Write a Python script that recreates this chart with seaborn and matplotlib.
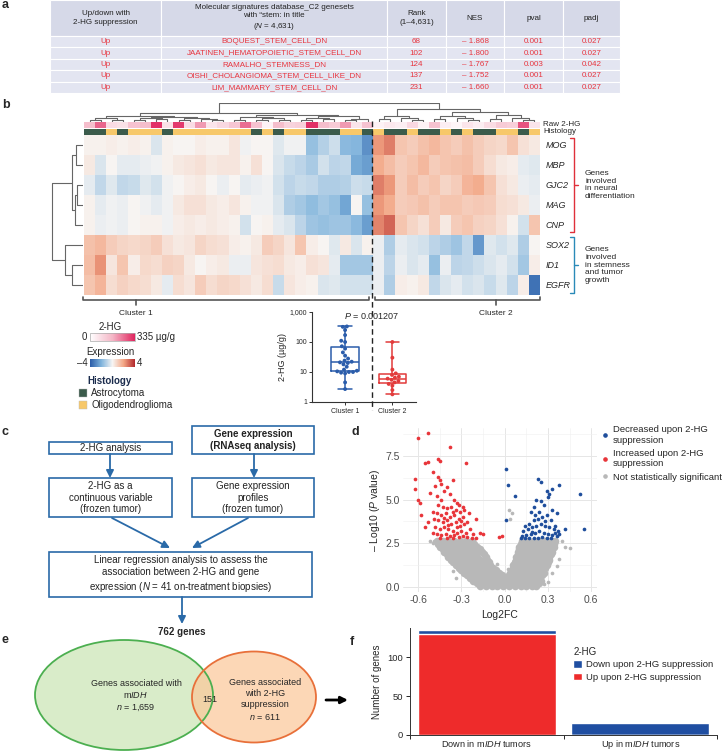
import numpy as np
import pandas as pd
import matplotlib
matplotlib.use("Agg")
import matplotlib.pyplot as plt
import seaborn as sns
from matplotlib.colors import LinearSegmentedColormap, ListedColormap, Normalize
from matplotlib.colorbar import ColorbarBase
from matplotlib.patches import Rectangle, Ellipse, Patch
from matplotlib.lines import Line2D
from matplotlib.ticker import AutoMinorLocator

W, H = 722, 753

# ---------------- a: GSEA table ----------------
table_direction = ["Up", "Up", "Up", "Up", "Up"]
table_genesets = ["BOQUEST_STEM_CELL_DN", "JAATINEN_HEMATOPOIETIC_STEM_CELL_DN",
                  "RAMALHO_STEMNESS_DN", "OISHI_CHOLANGIOMA_STEM_CELL_LIKE_DN",
                  "LIM_MAMMARY_STEM_CELL_DN"]
table_rank = [68, 102, 124, 137, 231]
table_nes = [-1.868, -1.800, -1.767, -1.752, -1.660]
table_pval = [0.001, 0.001, 0.003, 0.001, 0.001]
table_padj = [0.027, 0.027, 0.042, 0.027, 0.027]

# ---------------- b: heatmap ----------------
genes = ["MOG", "MBP", "GJC2", "MAG", "CNP", "SOX2", "ID1", "EGFR"]
expr_cluster1 = [
    [0.1, 0.1, 0.2, 0.1, 0.2, 0.1, -0.5, 0.1, 0.0, 0.0, 0.2, 0.1, 0.1, 0.4, -0.1, 0.0, 0.0, -0.4, -0.1, -0.1, -1.6, -1.1, -0.7, -1.8, -1.9, -2.8],
    [0.3, -0.5, 0.0, -0.3, -0.3, -0.2, -0.1, 0.1, 0.3, 0.4, 0.5, 0.3, 0.4, 0.4, 0.1, 0.5, 0.0, -0.5, -0.8, -1.0, -1.3, -0.6, -1.0, -0.9, -2.2, -2.5],
    [-0.3, -0.9, -0.4, -0.9, -0.8, -0.4, -0.6, -0.1, 0.0, 0.2, 0.3, 0.0, -0.2, 0.0, -0.3, -0.2, -0.1, -0.6, -1.0, -0.8, -0.9, -1.2, -1.2, -1.1, -0.7, -0.8],
    [0.1, -0.3, -0.1, -0.2, 0.0, -0.1, -0.3, -0.1, 0.3, 0.5, 0.5, 0.3, 0.2, 0.4, 0.1, -0.1, -0.1, -0.5, -1.2, -1.4, -1.7, -1.4, -1.6, -2.3, 0.0, -1.6],
    [0.1, -0.2, -0.1, -0.2, 0.0, 0.1, 0.1, -0.1, 0.2, 0.3, 0.2, 0.3, 0.2, 0.1, -0.6, 0.0, 0.1, -0.3, -0.5, -1.0, -1.5, -1.6, -1.5, -1.5, -1.8, -2.5],
    [1.3, 1.5, 1.0, 0.8, 0.7, 0.8, 1.0, 0.5, 0.3, 0.4, 0.8, 0.6, 0.5, 0.2, 0.1, 0.3, 1.0, 0.8, 0.4, 1.2, 0.2, 0.0, -0.4, 0.3, -0.5, 0.1],
    [1.4, 2.3, 0.4, 1.2, 0.2, 0.7, 0.6, 0.9, 0.8, 0.3, 0.0, 0.2, 0.3, -0.2, -0.2, 0.4, 0.5, 0.6, 0.3, 0.2, 0.5, 0.4, -0.3, -1.4, -1.4, -1.4],
    [1.2, 1.6, 0.6, 0.9, 0.7, 0.6, 0.3, -0.3, 0.6, 0.4, 1.0, 0.6, 0.8, 0.7, 0.5, 0.3, 0.6, -0.8, 0.4, 0.2, 0.1, -0.5, -0.4, -0.6, -0.6, -0.6],
]
expr_cluster2 = [
    [2.2, 2.6, 1.2, 1.0, 1.3, 1.5, 1.2, 1.0, 1.3, 1.0, 0.8, 0.7, 1.2, 0.5, 0.3],
    [1.8, 1.4, 1.0, 1.2, 1.5, 1.0, 1.2, 1.3, 1.4, 1.0, 0.6, 0.3, 0.2, -0.3, -0.4],
    [2.6, 2.2, 1.0, 1.4, 1.0, 1.2, 0.8, 1.0, 1.6, 1.8, 1.2, 0.5, 0.3, -0.2, -0.3],
    [2.2, 1.8, 1.0, 1.1, 1.3, 1.0, 1.2, 1.2, 1.0, 1.1, 1.0, 0.6, 0.5, 0.3, -0.2],
    [2.5, 3.0, 1.2, 0.8, 0.5, 1.0, 0.3, 1.0, 1.2, 0.9, 0.8, 0.5, 0.1, -0.6, 1.2],
    [-0.2, -1.2, -0.3, -0.5, -0.6, -1.0, -1.2, -1.5, -0.9, -2.6, -0.4, -0.6, -0.4, -1.2, 0.0],
    [-0.2, -1.0, -0.2, -0.5, -0.3, -1.6, -0.2, -1.0, -0.9, -0.7, -0.5, -0.3, -0.6, -1.4, 0.2],
    [-0.2, -1.2, 0.2, 0.1, 0.3, -0.9, -0.5, -0.3, -0.6, -0.5, -0.8, -0.4, -1.0, 0.2, -3.5],
]
hg_annot_c1 = [150, 260, 80, 70, 140, 150, 320, 70, 310, 80, 200, 60, 90, 130, 250, 140, 30, 150, 100, 110, 320, 150, 120, 200, 60, 140]
hg_annot_c2 = [30, 50, 40, 90, 30, 140, 40, 20, 60, 40, 80, 120, 110, 280, 60]
histology_c1 = list("AAOAOOOAOOOOOOOAOAOOAAAOOA")
histology_c2 = list("OAAOAAOAOAAOOAO")

# dendrograms: (height, left, right), leaves are column / row indices
c1_tree = (0.45,
           (0.33, (0.18, (0.1, 0, 1), (0.08, 2, 3)),
                  (0.26, (0.18, (0.08, 4, 5), (0.12, 6, 7)),
                         (0.22, (0.1, 8, 9), (0.14, 10, (0.06, 11, 12))))),
           (0.36, (0.25, (0.08, 13, 14), (0.17, (0.1, 15, 16), (0.08, 17, 18))),
                  (0.28, (0.18, (0.1, 19, 20), (0.12, 21, 22)), (0.16, (0.08, 23, 24), 25))))
c2_tree = (0.7,
           (0.3, (0.14, 26, 27), (0.2, 28, (0.09, 29, 30))),
           (0.5, (0.3, (0.12, 31, 32), (0.18, 33, (0.07, 34, 35))),
                 (0.34, (0.15, 36, 37), (0.2, 38, (0.1, 39, 40)))))
col_tree = (1.0, c1_tree, c2_tree)
row_tree = (1.0, (0.35, (0.22, 0, 1), (0.26, (0.2, 2, 3), 4)),
                 (0.58, 5, (0.35, 6, 7)))

# box plot of 2-HG by cluster
hg_cluster1 = [330, 320, 250, 170, 110, 100, 72, 60, 45, 35, 28, 24, 22, 21, 20, 18, 15, 12, 11, 10.5, 10, 10, 9.5, 9, 4.5, 2.7]
hg_cluster2 = [100, 30, 12, 9, 8, 7, 6.5, 6, 5.5, 5, 4.5, 4, 3.5, 2.5, 1.8]

# ---------------- d: volcano ----------------
red_points = [
    (-0.53, 8.8), (-0.60, 8.5), (-0.38, 8.0), (-0.46, 7.35), (-0.45, 7.2), (-0.53, 7.15), (-0.55, 7.1),
    (-0.27, 7.1), (-0.50, 6.6), (-0.62, 6.2), (-0.46, 6.3), (-0.45, 6.1), (-0.44, 5.9), (-0.36, 6.1),
    (-0.48, 5.8), (-0.62, 5.6), (-0.40, 5.7), (-0.52, 5.4), (-0.42, 5.5), (-0.38, 5.3), (-0.60, 4.95),
    (-0.59, 4.8), (-0.47, 5.2), (-0.44, 5.0), (-0.35, 5.0), (-0.33, 4.8), (-0.29, 4.6), (-0.58, 4.1),
    (-0.50, 4.3), (-0.53, 3.7), (-0.55, 3.4), (-0.20, 3.9), (-0.17, 3.1), (-0.15, 3.0), (-0.02, 2.9),
    (-0.04, 2.85), (-0.26, 3.7), (-0.24, 3.3), (-0.22, 3.0),
    (-0.46, 4.7), (-0.43, 4.6), (-0.40, 4.5), (-0.37, 4.6), (-0.34, 4.4), (-0.31, 4.3),
    (-0.47, 4.2), (-0.44, 4.1), (-0.41, 4.2), (-0.38, 4.0), (-0.35, 4.1), (-0.32, 3.9), (-0.29, 4.0),
    (-0.46, 3.8), (-0.43, 3.7), (-0.40, 3.8), (-0.37, 3.6), (-0.34, 3.7), (-0.31, 3.5), (-0.28, 3.6),
    (-0.48, 3.4), (-0.45, 3.3), (-0.42, 3.4), (-0.39, 3.3), (-0.36, 3.2), (-0.33, 3.4), (-0.30, 3.2),
    (-0.27, 3.1), (-0.47, 3.0), (-0.44, 2.95), (-0.41, 3.05), (-0.38, 2.9), (-0.35, 2.95), (-0.32, 2.85),
    (-0.29, 2.9), (-0.26, 2.85), (-0.23, 2.8), (-0.20, 2.8), (-0.45, 2.8), (-0.40, 2.78), (-0.36, 2.8),
    (-0.33, 3.1), (-0.39, 3.55), (-0.42, 3.95), (-0.36, 4.3), (-0.30, 3.75), (-0.49, 3.9), (-0.50, 3.1),
    (-0.25, 4.2), (-0.28, 4.4), (-0.32, 4.7),
]
blue_points = [
    (0.01, 6.75), (0.02, 5.85), (0.01, 3.8), (0.07, 5.2), (0.23, 6.15), (0.25, 6.0), (0.38, 5.85),
    (0.33, 5.6), (0.29, 5.5), (0.31, 5.3), (0.30, 5.15), (0.52, 5.3), (0.55, 3.3), (0.42, 3.3),
    (0.37, 3.2), (0.35, 3.5), (0.22, 5.0), (0.25, 4.9), (0.20, 4.6), (0.27, 4.7), (0.33, 4.4),
    (0.36, 4.2), (0.18, 4.3),
    (0.14, 3.5), (0.17, 3.6), (0.20, 3.8), (0.23, 3.9), (0.26, 4.0), (0.29, 4.1), (0.32, 3.8),
    (0.13, 3.2), (0.16, 3.3), (0.19, 3.4), (0.22, 3.5), (0.25, 3.6), (0.28, 3.5), (0.31, 3.4), (0.34, 3.3),
    (0.12, 2.9), (0.15, 2.95), (0.18, 3.0), (0.21, 3.1), (0.24, 3.2), (0.27, 3.1), (0.30, 3.0),
    (0.33, 2.95), (0.36, 2.9), (0.11, 2.78), (0.14, 2.8), (0.17, 2.8), (0.20, 2.78), (0.23, 2.8),
    (0.26, 2.85), (0.29, 2.8), (0.32, 2.78), (0.35, 3.1), (0.38, 3.0), (0.24, 4.3), (0.21, 4.1),
    (0.28, 3.75), (0.19, 3.15),
]
grey_levels = [0.05, 0.2, 0.35, 0.5, 0.65, 0.8, 0.95, 1.1, 1.25, 1.4, 1.55, 1.7, 1.85, 2.0, 2.15, 2.3, 2.45, 2.6]
grey_rows = [
    [-0.17, -0.13, -0.09, -0.05, -0.01, 0.03, 0.07, 0.11, 0.15, 0.19, 0.22],
    [-0.19, -0.15, -0.11, -0.07, -0.03, 0.01, 0.05, 0.09, 0.13, 0.17, 0.21, 0.24],
    [-0.22, -0.18, -0.14, -0.10, -0.06, -0.02, 0.02, 0.06, 0.10, 0.14, 0.18, 0.22, 0.25],
    [-0.24, -0.20, -0.16, -0.12, -0.08, -0.04, 0.0, 0.04, 0.08, 0.12, 0.16, 0.20, 0.24],
    [-0.26, -0.22, -0.18, -0.14, -0.10, -0.06, -0.02, 0.03, 0.07, 0.11, 0.15, 0.19, 0.23, 0.26],
    [-0.28, -0.24, -0.20, -0.16, -0.12, -0.08, -0.04, 0.04, 0.08, 0.12, 0.16, 0.20, 0.24, 0.27],
    [-0.30, -0.26, -0.22, -0.18, -0.14, -0.10, -0.06, 0.05, 0.09, 0.13, 0.17, 0.21, 0.25],
    [-0.32, -0.28, -0.24, -0.20, -0.16, -0.12, -0.08, 0.06, 0.10, 0.14, 0.18, 0.22, 0.26, 0.28],
    [-0.34, -0.30, -0.26, -0.22, -0.18, -0.14, -0.10, 0.06, 0.10, 0.14, 0.18, 0.22, 0.26, 0.29],
    [-0.36, -0.32, -0.28, -0.24, -0.20, -0.16, -0.11, 0.07, 0.11, 0.15, 0.19, 0.23, 0.27, 0.30],
    [-0.37, -0.33, -0.29, -0.25, -0.21, -0.17, -0.12, 0.08, 0.12, 0.16, 0.20, 0.24, 0.28, 0.31],
    [-0.39, -0.35, -0.31, -0.27, -0.23, -0.19, -0.13, 0.08, 0.12, 0.16, 0.20, 0.24, 0.28, 0.31],
    [-0.40, -0.36, -0.32, -0.28, -0.24, -0.20, -0.14, 0.09, 0.13, 0.17, 0.21, 0.25, 0.29, 0.32],
    [-0.42, -0.38, -0.34, -0.30, -0.26, -0.22, -0.16, 0.09, 0.13, 0.17, 0.21, 0.25, 0.29, 0.33],
    [-0.43, -0.39, -0.35, -0.31, -0.27, -0.23, -0.17, 0.10, 0.14, 0.18, 0.22, 0.26, 0.30, 0.33],
    [-0.45, -0.41, -0.37, -0.33, -0.29, -0.25, -0.19, 0.10, 0.14, 0.18, 0.22, 0.26, 0.30, 0.34],
    [-0.46, -0.42, -0.38, -0.34, -0.30, -0.26, -0.21, 0.11, 0.15, 0.19, 0.23, 0.27, 0.31, 0.34],
    [-0.47, -0.43, -0.39, -0.35, -0.31, -0.27, -0.23, 0.12, 0.16, 0.20, 0.24, 0.28, 0.32, 0.35],
]
grey_extra = [(0.03, 4.4), (0.05, 4.25), (0.04, 3.9), (0.42, 2.3), (0.45, 2.2), (0.40, 2.6), (0.38, 1.6),
              (0.36, 1.2), (0.33, 0.8), (0.30, 0.3), (0.27, 0.15), (-0.50, 2.5), (-0.49, 2.65),
              (-0.36, 0.9), (-0.34, 0.5), (-0.05, 1.3), (0.02, 1.0), (0.06, 1.35), (-0.52, 2.6)]

# ---------------- e / f ----------------
venn_labels = ["Genes associated with\nm$\\it{IDH}$\n$\\it{n}$ = 1,659",
               "Genes associated\nwith 2-HG\nsuppression\n$\\it{n}$ = 611"]
venn_overlap = 151
bar_categories = ["Down in m$\\it{IDH}$ tumors", "Up in m$\\it{IDH}$ tumors"]
bar_down = [5, 16]
bar_up = [130, 0]

# ---------------- style ----------------
sns.set_theme(style="white")
plt.rcParams["font.family"] = ["Liberation Sans", "DejaVu Sans"]
plt.rcParams["mathtext.fontset"] = "custom"
plt.rcParams["mathtext.rm"] = "Liberation Sans"
plt.rcParams["mathtext.it"] = "Liberation Sans:italic"
plt.rcParams["mathtext.bf"] = "Liberation Sans:bold"
plt.rcParams["axes.unicode_minus"] = False

RED = "#e8353a"
BLUE = "#1f4e9c"
GREY = "#b8b8b8"
FLOW = "#2a6aa8"
NARROW = ["Liberation Sans Narrow", "Liberation Sans", "DejaVu Sans"]

fig = plt.figure(figsize=(7.22, 7.53), dpi=100)


def px_axes(x0, y0, x1, y1, **kw):
    return fig.add_axes([x0 / W, 1 - y1 / H, (x1 - x0) / W, (y1 - y0) / H], **kw)


def draw_tree(ax, node, orient):
    if isinstance(node, int):
        return node + 0.5, 0.0
    h, left, right = node
    p1, h1 = draw_tree(ax, left, orient)
    p2, h2 = draw_tree(ax, right, orient)
    ps, hs = [p1, p1, p2, p2], [h1, h, h, h2]
    if orient == "top":
        ax.plot(ps, hs, color="#666666", lw=0.8)
    else:
        ax.plot(hs, ps, color="#666666", lw=0.8)
    return (p1 + p2) / 2, h


# ---------- b: heatmap ----------
expr_cmap = LinearSegmentedColormap.from_list(
    "expr", ["#2a5ca8", "#7fb3dc", "#f7f5f3", "#f3a583", "#b2282c"])
hg_cmap = LinearSegmentedColormap.from_list("hg", ["#ffffff", "#f4b6c6", "#e0245e"])
hist_cmap = ListedColormap(["#3b5b4b", "#f7c86a"])

expr = pd.DataFrame([a + b for a, b in zip(expr_cluster1, expr_cluster2)], index=genes)
n_cols = expr.shape[1]

ax_hm = px_axes(84, 135, 540, 295)
sns.heatmap(expr, ax=ax_hm, cmap=expr_cmap, vmin=-4, vmax=4, cbar=False,
            xticklabels=False, yticklabels=False)

ax_hg = px_axes(84, 121.5, 540, 128)
sns.heatmap(np.array([hg_annot_c1 + hg_annot_c2]), ax=ax_hg, cmap=hg_cmap, vmin=0, vmax=335,
            cbar=False, xticklabels=False, yticklabels=False)
ax_hist = px_axes(84, 129, 540, 134.5)
hist_codes = [0 if h == "A" else 1 for h in histology_c1 + histology_c2]
sns.heatmap(np.array([hist_codes]), ax=ax_hist, cmap=hist_cmap, vmin=0, vmax=1,
            cbar=False, xticklabels=False, yticklabels=False)

ax_cd = px_axes(84, 103, 540, 121.5)
draw_tree(ax_cd, col_tree, "top")
ax_cd.set_xlim(0, n_cols)
ax_cd.set_ylim(0, 1.02)
ax_cd.axis("off")

ax_rd = px_axes(51, 135, 83, 295)
draw_tree(ax_rd, row_tree, "left")
ax_rd.set_xlim(1.02, 0)
ax_rd.set_ylim(len(genes), 0)
ax_rd.axis("off")

# legends of b
ax_cb1 = px_axes(90, 333, 135, 341)
cb1 = ColorbarBase(ax_cb1, cmap=hg_cmap, norm=Normalize(0, 335), orientation="horizontal")
cb1.set_ticks([])
cb1.outline.set_edgecolor("#aaaaaa")
cb1.outline.set_linewidth(0.5)
ax_cb2 = px_axes(90, 359, 135, 367)
cb2 = ColorbarBase(ax_cb2, cmap=expr_cmap, norm=Normalize(-4, 4), orientation="horizontal")
cb2.set_ticks([])
cb2.outline.set_linewidth(0)

# box plot of 2-HG
ax_bx = px_axes(312, 312, 416, 402)
box_df = pd.DataFrame({
    "cluster": ["Cluster 1"] * len(hg_cluster1) + ["Cluster 2"] * len(hg_cluster2),
    "hg": hg_cluster1 + hg_cluster2,
})
box_pal = {"Cluster 1": "#2b5dab", "Cluster 2": "#e23b3b"}
sns.boxplot(data=box_df, x="cluster", y="hg", hue="cluster", palette=box_pal, fill=False,
            whis=(0, 100), showfliers=False, width=0.58, linewidth=1.1, log_scale=True,
            legend=False, ax=ax_bx)
sns.swarmplot(data=box_df, x="cluster", y="hg", hue="cluster", palette=box_pal, size=2.8,
              log_scale=True, legend=False, ax=ax_bx)
ax_bx.set_ylim(1, 1000)
ax_bx.set_yticks([1, 10, 100, 1000], labels=["1", "10", "100", "1,000"])
ax_bx.minorticks_off()
ax_bx.set_xlim(-0.7, 1.5)
ax_bx.set_xlabel("")
ax_bx.set_ylabel("2-HG (µg/g)", fontsize=6.5, labelpad=2)
ax_bx.tick_params(axis="both", labelsize=5, length=2.5, width=0.7, pad=1.5, color="#333333")
ax_bx.tick_params(axis="y", pad=1)
ax_bx.tick_params(left=True, bottom=True)
sns.despine(ax=ax_bx)
for sp in ["left", "bottom"]:
    ax_bx.spines[sp].set_linewidth(0.8)
    ax_bx.spines[sp].set_color("#333333")

# ---------- d: volcano ----------
ax_v = px_axes(403, 428, 597, 592)
grey_df = pd.DataFrame({"x": [x for row in grey_rows for x in row],
                        "y": [lvl for lvl, row in zip(grey_levels, grey_rows) for _ in row]})
grey_extra_df = pd.DataFrame(grey_extra, columns=["x", "y"])
red_df = pd.DataFrame(red_points, columns=["x", "y"])
blue_df = pd.DataFrame(blue_points, columns=["x", "y"])
sns.scatterplot(data=grey_df, x="x", y="y", color=GREY, s=30, linewidth=0, ax=ax_v)
sns.scatterplot(data=grey_extra_df, x="x", y="y", color=GREY, s=7, linewidth=0, ax=ax_v)
sns.scatterplot(data=red_df, x="x", y="y", color=RED, s=7, linewidth=0, ax=ax_v)
sns.scatterplot(data=blue_df, x="x", y="y", color=BLUE, s=7, linewidth=0, ax=ax_v)
ax_v.set_xlim(-0.705, 0.64)
ax_v.set_ylim(-0.3, 9.1)
ax_v.set_xticks([-0.6, -0.3, 0.0, 0.3, 0.6], labels=["-0.6", "-0.3", "0.0", "0.3", "0.6"])
ax_v.set_yticks([0, 2.5, 5.0, 7.5], labels=["0.0", "2.5", "5.0", "7.5"])
ax_v.xaxis.set_minor_locator(AutoMinorLocator(2))
ax_v.yaxis.set_minor_locator(AutoMinorLocator(2))
ax_v.grid(True, which="major", color="#e6e6e6", lw=0.7)
ax_v.grid(True, which="minor", color="#f0f0f0", lw=0.4)
ax_v.set_axisbelow(True)
for sp in ax_v.spines.values():
    sp.set_visible(False)
ax_v.tick_params(which="both", length=0, labelsize=7.5, labelcolor="#4d4d4d", pad=2)
ax_v.set_xlabel("Log2FC", fontsize=7.5, labelpad=4)
ax_v.set_ylabel("\u2013 Log10 ($\\it{P}$ value)", fontsize=7.5, labelpad=3)
v_handles = [Line2D([], [], marker="o", ls="", color=c, markersize=2.3)
             for c in [BLUE, RED, GREY]]
ax_v.legend(v_handles, ["Decreased upon 2-HG\nsuppression", "Increased upon 2-HG\nsuppression",
                        "Not statistically significant"],
            loc="upper left", bbox_to_anchor=(1.0, 1.04), frameon=False, fontsize=6.8,
            handlelength=0.8, handletextpad=0.5, labelspacing=0.45, borderaxespad=0)

# ---------- f: stacked bars ----------
ax_f = px_axes(410, 628, 717, 735)
f_df = pd.DataFrame({"cat": bar_categories,
                     "total": [d + u for d, u in zip(bar_down, bar_up)],
                     "up": bar_up})
sns.barplot(data=f_df, x="cat", y="total", color="#1f4ea1", width=0.9, saturation=1, ax=ax_f)
sns.barplot(data=f_df, x="cat", y="up", color="#ee2b2b", width=0.9, saturation=1, ax=ax_f)
ax_f.set_xlim(-0.465, 1.49)
ax_f.set_ylim(0, 138)
ax_f.set_yticks([0, 50, 100])
ax_f.set_xticks([0, 1], labels=bar_categories)
ax_f.set_xticks([-0.5, 0.5, 1.5], minor=True)
ax_f.tick_params(axis="x", which="major", length=0, labelsize=6.6, pad=2.5)
ax_f.tick_params(axis="x", which="minor", length=3, width=0.7, bottom=True)
ax_f.tick_params(axis="y", labelsize=6.8, length=3, width=0.7, left=True, pad=2)
ax_f.set_xlabel("")
ax_f.set_ylabel("Number of genes", fontsize=7, labelpad=4)
sns.despine(ax=ax_f)
for sp in ["left", "bottom"]:
    ax_f.spines[sp].set_linewidth(0.7)
    ax_f.spines[sp].set_color("#333333")
f_handles = [Patch(facecolor="#1f4ea1"), Patch(facecolor="#ee2b2b")]
leg_f = ax_f.legend(f_handles, ["Down upon 2-HG suppression", "Up upon 2-HG suppression"],
                    title="2-HG", loc="upper left", bbox_to_anchor=(0.52, 0.86), frameon=False,
                    fontsize=6.8, title_fontsize=7, handlelength=0.9, handleheight=0.9,
                    handletextpad=0.4, labelspacing=0.35, alignment="left", borderaxespad=0)

# ---------- overlay for text, table, flowchart, venn ----------
ov = fig.add_axes([0, 0, 1, 1], zorder=10)
ov.set_xlim(0, W)
ov.set_ylim(H, 0)
ov.axis("off")

for lab, (x, y) in zip("abcdef", [(2, 5), (2, 105), (2, 432), (352, 432), (2, 640), (350, 642)]):
    ov.text(x, y, lab, fontsize=9, fontweight="bold", ha="left", va="center")

# a: table
col_edges = [50, 161, 387, 446, 504, 563, 620]
header_bot, row_h = 36, 11.4
header_texts = ["Up/down with\n2-HG suppression",
                "Molecular signatures database_C2 genesets\nwith \u201cstem: in title\n($\\it{N}$ = 4,631)",
                "Rank\n(1\u20134,631)", "NES", "pval", "padj"]
for i in range(6):
    x0, x1 = col_edges[i], col_edges[i + 1]
    ov.add_patch(Rectangle((x0, 0), x1 - x0, header_bot, facecolor="#d6d9e8",
                           edgecolor="white", lw=0.8))
    ov.text((x0 + x1) / 2, header_bot / 2, header_texts[i], ha="center", va="center",
            fontsize=5.8, color="#222222", linespacing=1.3, family=NARROW)
for r in range(len(table_genesets)):
    y0 = header_bot + r * row_h
    vals = [table_direction[r], table_genesets[r], str(table_rank[r]),
            "\u2013 %.3f" % abs(table_nes[r]), "%.3f" % table_pval[r], "%.3f" % table_padj[r]]
    for i in range(6):
        x0, x1 = col_edges[i], col_edges[i + 1]
        ov.add_patch(Rectangle((x0, y0), x1 - x0, row_h, facecolor="#e3e5f1",
                               edgecolor="white", lw=0.8))
        ov.text((x0 + x1) / 2, y0 + row_h / 2, vals[i], ha="center", va="center",
                fontsize=5.8, color="#e8353f", family=NARROW)

# b: annotation labels, gene labels, brackets
ov.text(543, 124.5, "Raw 2-HG", fontsize=5.8, va="center", ha="left", family=NARROW)
ov.text(543, 131.5, "Histology", fontsize=5.8, va="center", ha="left", family=NARROW)
for i, g in enumerate(genes):
    ov.text(546, 145 + 20 * i, g, fontsize=6.5, fontstyle="italic", va="center", ha="left")
ov.plot([570, 574, 574, 570], [138, 138, 232, 232], color="#e0303a", lw=1)
ov.plot([574, 578], [185, 185], color="#e0303a", lw=1)
ov.text(585, 185, "Genes\ninvolved\nin neural\ndifferentiation", fontsize=6, va="center",
        ha="left", linespacing=1.15)
ov.plot([570, 574, 574, 570], [237, 237, 293, 293], color="#2a8ab8", lw=1)
ov.plot([574, 578], [265, 265], color="#2a8ab8", lw=1)
ov.text(585, 265, "Genes\ninvolved\nin stemness\nand tumor\ngrowth", fontsize=6, va="center",
        ha="left", linespacing=1.15)
ov.plot([372, 372], [121, 410], color="#222222", lw=1, ls=(0, (4, 2.5)))
for xa, xb, xm, lab in [(83, 369, 136, "Cluster 1"), (375, 540, 496, "Cluster 2")]:
    ov.plot([xa, xa, xb, xb], [297, 300, 300, 297], color="#555555", lw=1.2)
    ov.plot([xm, xm], [300, 305], color="#555555", lw=1.2)
    ov.text(xm, 313, lab, fontsize=6, ha="center", va="center")
ov.text(372, 316, "$\\it{P}$ = 0.001207", fontsize=6.5, ha="center", va="center")
ov.text(110, 327, "2-HG", fontsize=7, ha="center", va="center")
ov.text(87, 337, "0", fontsize=7, ha="right", va="center")
ov.text(137, 337, "335 µg/g", fontsize=7, ha="left", va="center")
ov.text(110, 352, "Expression", fontsize=7, ha="center", va="center")
ov.text(88, 363, "\u20134", fontsize=7, ha="right", va="center")
ov.text(137, 363, "4", fontsize=7, ha="left", va="center")
ov.text(110, 381, "Histology", fontsize=7, fontweight="bold", color="#1a2b4c", ha="center", va="center")
for yc, lab, col in [(393, "Astrocytoma", "#3b5b4b"), (405, "Oligodendroglioma", "#f7c86a")]:
    ov.add_patch(Rectangle((79, yc - 4), 8, 8, facecolor=col, edgecolor="#bbbbbb", lw=0.3))
    ov.text(91, yc, lab, fontsize=7, ha="left", va="center")

# c: flowchart
boxes = [
    ((49, 442, 172, 454), "2-HG analysis", "normal"),
    ((192, 426, 314, 454), "Gene expression\n(RNAseq analysis)", "bold"),
    ((49, 478, 172, 517), "2-HG as a\ncontinuous variable\n(frozen tumor)", "normal"),
    ((192, 478, 314, 517), "Gene expression\nprofiles\n(frozen tumor)", "normal"),
    ((49, 552, 312, 597), "Linear regression analysis to assess the\nassociation between 2-HG and gene\n"
                          "expression ($\\it{N}$ = 41 on-treatment biopsies)", "normal"),
]
for (x0, y0, x1, y1), txt, wt in boxes:
    ov.add_patch(Rectangle((x0, y0), x1 - x0, y1 - y0, facecolor="white", edgecolor=FLOW, lw=1.2))
    ov.text((x0 + x1) / 2, (y0 + y1) / 2, txt, fontsize=7, fontweight=wt, ha="center",
            va="center", linespacing=1.25, color="#222222")
arrows = [((110, 454), (110, 478)), ((254, 454), (254, 478)),
          ((112, 518), (170, 548)), ((248, 518), (192, 548)), ((182, 597), (182, 624))]
for (xs, ys), (xe, ye) in arrows:
    ov.annotate("", xy=(xe, ye), xytext=(xs, ys),
                arrowprops=dict(arrowstyle="-|>", color=FLOW, lw=1.3, mutation_scale=11,
                                shrinkA=0, shrinkB=0))
ov.text(182, 632, "762 genes", fontsize=7, fontweight="bold", ha="center", va="center")

# e: venn
ov.add_patch(Ellipse((124, 695), 178, 110, facecolor="#d9ecc9", edgecolor="none"))
ov.add_patch(Ellipse((254, 697), 124, 91, facecolor="#fbc89a", edgecolor="none", alpha=0.72))
ov.add_patch(Ellipse((124, 695), 178, 110, facecolor="none", edgecolor="#4caf50", lw=1.3))
ov.add_patch(Ellipse((254, 697), 124, 91, facecolor="none", edgecolor="#e8703a", lw=1.3))
ov.text(136, 696, venn_labels[0], fontsize=6.5, ha="center", va="center", linespacing=1.3)
ov.text(210, 699, str(venn_overlap), fontsize=6.5, ha="center", va="center")
ov.text(265, 700, venn_labels[1], fontsize=6.5, ha="center", va="center", linespacing=1.3)
ov.annotate("", xy=(348, 700), xytext=(326, 700),
            arrowprops=dict(arrowstyle="-|>", color="black", lw=2, mutation_scale=10,
                            shrinkA=0, shrinkB=0))

fig.savefig("out.png", dpi=100)
